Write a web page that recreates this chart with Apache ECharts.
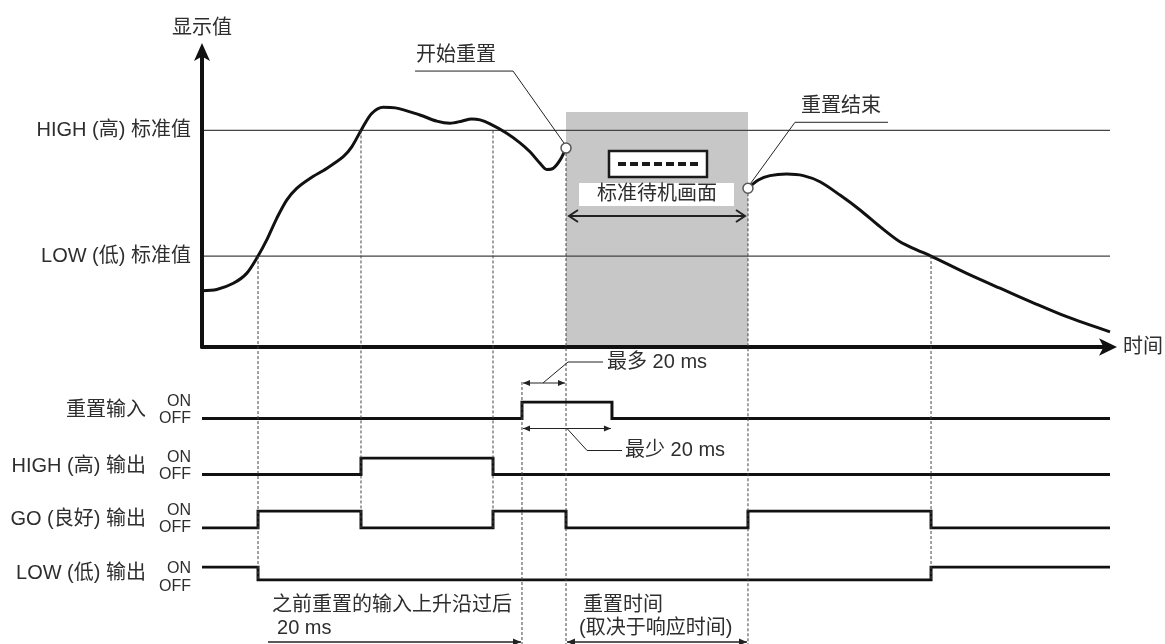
<!DOCTYPE html>
<html><head><meta charset="utf-8">
<script src="https://cdn.jsdelivr.net/npm/echarts@6/dist/echarts.min.js"></script>
<style>html,body{margin:0;padding:0;background:#fff}#c{width:1165px;height:644px}</style>
</head><body><div id="c"></div>
<script>
// ---------- data (time in arbitrary units 0..100, display value 0..96) ----------
const highStd = 70;
const lowStd = 29.4;
const curveBefore = [[0,18.2],[1.62,18.6],[3.45,20.6],[4.92,23.8],[6.17,29.4],[7.13,34.6],[8.23,41.6],[9.33,47.5],[10.43,51.3],[11.89,54.5],[13.73,57.7],[15.56,61.5],[16.49,64.7],[17.51,70.0],[18.69,75.5],[19.97,77.5],[21.3,77.3],[24.0,75.0],[25.85,73.0],[27.31,72.3],[28.6,73.0],[29.7,73.7],[30.62,73.4],[31.72,72.1],[33.56,69.1],[35.02,66.0],[36.12,63.1],[37.22,59.4],[37.96,57.4],[38.69,57.8],[39.43,60.4],[40.09,64.3]];
const curveAfter = [[60.13,51.3],[61.27,54.0],[62.56,55.4],[64.39,55.9],[66.22,55.4],[68.06,53.4],[70.26,49.1],[72.47,44.3],[74.67,38.9],[76.87,34.0],[78.71,31.4],[80.29,29.4],[84.22,23.8],[87.89,19.0],[91.55,14.3],[95.23,9.8],[100,4.9]];
// event times: low-in, high-in, high-out, reset-in on, reset start, reset-in off, reset end, low-out
const events = [6.17, 17.51, 32.05, 35.24, 40.09, 45.15, 60.13, 80.29];
const standbyArea = [40.09, 60.13, 76]; // start, end, display height
const resetInput = [[0,0],[35.24,1],[45.15,0],[100,0]];
const highOutput = [[0,0],[17.51,1],[32.05,0],[100,0]];
const goOutput = [[0,0],[6.17,1],[17.51,0],[32.05,1],[40.09,0],[60.13,1],[80.29,0],[100,0]];
const lowOutput = [[0,1],[6.17,0],[80.29,1],[100,1]];
const rowNames = ['重置输入','HIGH (高) 输出','GO (良好) 输出','LOW (低) 输出'];
const stateLabels = ['OFF','ON'];
const stdLabels = ['LOW (低) 标准值','HIGH (高) 标准值'];

// ---------- chart ----------
const FONT = '"Liberation Sans","Noto Sans CJK SC",sans-serif';
const TXT = '#2e2e2e', INK = '#111';
const FS = 20;
const chart = echarts.init(document.getElementById('c'));

const rowLayout = [
  {top:402, height:16.5},
  {top:458, height:16.5},
  {top:511, height:17},
  {top:567, height:13}
];
const signals = [resetInput, highOutput, goOutput, lowOutput];

const grids = [{left:202, top:50, width:908, height:297}];
rowLayout.forEach(r => grids.push({left:202, top:r.top, width:908, height:r.height}));

const xAxes = [{
  gridIndex:0, type:'value', min:0, max:100, z:5,
  axisLine:{show:true, lineStyle:{color:INK, width:4}, symbol:['none','arrow'], symbolSize:[13,18], symbolOffset:[0,7]},
  axisTick:{show:false}, axisLabel:{show:false}, splitLine:{show:false},
  name:'时间', nameLocation:'end', nameGap:13,
  nameTextStyle:{color:TXT, fontSize:FS, fontFamily:FONT, verticalAlign:'middle'}
}];
const yAxes = [{
  gridIndex:0, type:'value', min:0, max:96, z:5,
  axisLine:{show:true, lineStyle:{color:INK, width:4}, symbol:['none','arrow'], symbolSize:[12,18], symbolOffset:[0,7]},
  axisTick:{show:false}, splitLine:{show:false},
  axisLabel:{show:true, customValues:[lowStd, highStd], margin:11, color:TXT, fontSize:FS, fontFamily:FONT,
    formatter: v => v === highStd ? stdLabels[1] : stdLabels[0]},
  name:'显示值', nameLocation:'end', nameGap:12,
  nameTextStyle:{color:TXT, fontSize:FS, fontFamily:FONT, align:'center'}
}];
rowLayout.forEach((r, i) => {
  const last = i === 3;
  xAxes.push({gridIndex:i+1, type:'value', min:0, max:100, show:false});
  yAxes.push({
    gridIndex:i+1, type:'value', min:0, max:1, interval:1,
    axisLine:{show:false}, axisTick:{show:false}, splitLine:{show:false},
    axisLabel:{show:true, showMinLabel:true, showMaxLabel:true, margin:11, color:TXT, fontSize:16, fontFamily:FONT,
      formatter: v => last ? (v ? '{on|ON}' : '{off|OFF}') : stateLabels[v],
      rich: last ? {on:{fontSize:16, fontFamily:FONT, color:TXT, padding:[4,0,0,0]}, off:{fontSize:16, fontFamily:FONT, color:TXT, padding:[14,0,0,0]}} : undefined},
    name: rowNames[i], nameLocation:'middle', nameRotate:0, nameGap:56,
    nameTextStyle:{color:TXT, fontSize:FS, fontFamily:FONT, align:'right', padding: last ? [8,0,0,0] : 0}
  });
});

const series = [
  {type:'line', xAxisIndex:0, yAxisIndex:0, data:[], z:1, silent:true,
   markArea:{silent:true, itemStyle:{color:'#c7c7c7'}, data:[[{xAxis:standbyArea[0], yAxis:0},{xAxis:standbyArea[1], yAxis:standbyArea[2]}]]}},
  {type:'line', xAxisIndex:0, yAxisIndex:0, data:[[0,highStd],[100,highStd]], symbol:'none', z:3, lineStyle:{color:'#444', width:1.2}},
  {type:'line', xAxisIndex:0, yAxisIndex:0, data:[[0,lowStd],[100,lowStd]], symbol:'none', z:3, lineStyle:{color:'#444', width:1.2}},
  {type:'line', xAxisIndex:0, yAxisIndex:0, data:curveBefore, symbol:'none', smooth:0.3, z:4, lineStyle:{color:INK, width:3}},
  {type:'line', xAxisIndex:0, yAxisIndex:0, data:curveAfter, symbol:'none', smooth:0.3, z:4, lineStyle:{color:INK, width:3}}
];
signals.forEach((d, i) => series.push({
  type:'line', xAxisIndex:i+1, yAxisIndex:i+1, data:d, step:'end', symbol:'none', z:4,
  lineStyle:{color:INK, width:3, join:'miter'}
}));

chart.setOption({animation:false, backgroundColor:'#fff', grid:grids, xAxis:xAxes, yAxis:yAxes, series});

// ---------- annotations anchored through the axes ----------
function buildGraphics(){
  const X = t => chart.convertToPixel({xAxisIndex:0}, t);
  const Y0 = v => chart.convertToPixel({yAxisIndex:0}, v);
  const YR = (i, s) => chart.convertToPixel({yAxisIndex:i+1}, s);
  const g = [];
  const line = (x1,y1,x2,y2,st,z) => g.push({type:'line', silent:true, z:z||20, shape:{x1,y1,x2,y2}, style:Object.assign({stroke:'#222', lineWidth:1}, st||{})});
  const poly = (pts,st) => g.push({type:'polyline', silent:true, z:20, shape:{points:pts}, style:Object.assign({stroke:'#222', lineWidth:1, fill:null}, st||{})});
  const tri = (x,y,d,len,w) => g.push({type:'polygon', silent:true, z:21, shape:{points:[[x,y],[x-d*len,y-w],[x-d*len,y+w]]}, style:{fill:'#222'}});
  const text = (x,y,s,st) => g.push({type:'text', silent:true, z:22, x, y, style:Object.assign({text:s, fill:TXT, fontSize:FS, fontFamily:FONT, align:'left', verticalAlign:'middle'}, st||{})});
  const dash = (x,y1,y2) => line(x,y1,x,y2,{stroke:'#444', lineWidth:1, lineDash:[3,2]});

  const [tLowIn, tHighIn, tHighOut, tResetIn, tResetStart, tResetInOff, tResetEnd, tLowOut] = events;
  const B = 644;
  const pStart = [X(curveBefore[curveBefore.length-1][0]), Y0(curveBefore[curveBefore.length-1][1])];
  const pEnd = [X(curveAfter[0][0]), Y0(curveAfter[0][1])];

  // vertical dashed guides
  dash(X(tLowIn), Y0(lowStd), YR(3,0));
  dash(X(tHighIn), Y0(highStd), YR(2,0));
  dash(X(tHighOut), Y0(highStd), YR(2,0));
  dash(X(tResetIn), YR(0,1) - 20, B);
  dash(pStart[0], pStart[1], B);
  dash(pEnd[0], pEnd[1], B);
  dash(X(tLowOut), Y0(lowStd), YR(3,0));

  // open circles at reset start / end
  [pStart, pEnd].forEach(p => g.push({type:'circle', silent:true, z:23, shape:{cx:p[0], cy:p[1], r:5}, style:{fill:'#fff', stroke:'#555', lineWidth:1.5}}));

  // leader "开始重置"
  poly([[pStart[0]-2, pStart[1]-5],[pStart[0]-53, pStart[1]-77],[pStart[0]-151, pStart[1]-77]]);
  text(pStart[0]-150, pStart[1]-93, '开始重置');
  // leader "重置结束"
  poly([[pEnd[0]+2, pEnd[1]-4],[pEnd[0]+47, pEnd[1]-66],[pEnd[0]+140, pEnd[1]-66]]);
  text(pEnd[0]+53, pEnd[1]-82, '重置结束');

  // standby display inside gray area
  const xa = X(standbyArea[0]), xb = X(standbyArea[1]), xc = (xa + xb) / 2;
  g.push({type:'rect', silent:true, z:21, shape:{x:xc-48, y:151, width:98, height:26}, style:{fill:'#fff', stroke:'#1a1a1a', lineWidth:2.5}});
  line(xc-39, 164, xc+43, 164, {stroke:'#1a1a1a', lineWidth:4, lineDash:[8,4]}, 24);
  g.push({type:'rect', silent:true, z:21, shape:{x:xa+13, y:183, width:155, height:23}, style:{fill:'#fff'}});
  text(xc, 194.5, '标准待机画面', {align:'center'});
  // double arrow under it
  const ya = 216;
  line(xa+3, ya, xb-3, ya, {lineWidth:2});
  poly([[xa+12, ya-6],[xa+3, ya],[xa+12, ya+6]], {lineWidth:2});
  poly([[xb-12, ya-6],[xb-3, ya],[xb-12, ya+6]], {lineWidth:2});

  // "最多 20 ms"
  const xr = X(tResetIn), xs = X(tResetStart), xo = X(tResetInOff);
  const yM = YR(0,1) - 19;
  line(xr+1, yM, xs-1, yM);
  tri(xr+1, yM, -1, 7, 3); tri(xs-1, yM, 1, 7, 3);
  poly([[xr+21, yM],[xs+2, yM-21],[xs+37, yM-21]]);
  text(xs+41, yM-21, '最多 20 ms');

  // "最少 20 ms"
  const yL = YR(0,0) + 10;
  line(xr+1, yL, xo-1, yL);
  tri(xr+1, yL, -1, 7, 3); tri(xo-1, yL, 1, 7, 3);
  poly([[xs+1, yL],[xs+21, yL+22],[xs+56, yL+22]]);
  text(xs+59, yL+22, '最少 20 ms');

  // bottom annotations
  const yB = 642;
  text(X(tLowIn)+14, 605, '之前重置的输入上升沿过后');
  text(X(tLowIn)+19, 628, '20 ms');
  line(X(tLowIn)+10, yB, xr-1, yB, {lineWidth:1.5});
  tri(xr-1, yB, 1, 8, 3.5);

  text(xs+17, 605, '重置时间');
  text(xs+13, 628, '(取决于响应时间)');
  line(xs+1, yB, pEnd[0]-1, yB, {lineWidth:1.5});
  tri(xs+1, yB, -1, 8, 3.5); tri(pEnd[0]-1, yB, 1, 8, 3.5);
  return g;
}
chart.setOption({graphic: buildGraphics()});
</script>
</body></html>
